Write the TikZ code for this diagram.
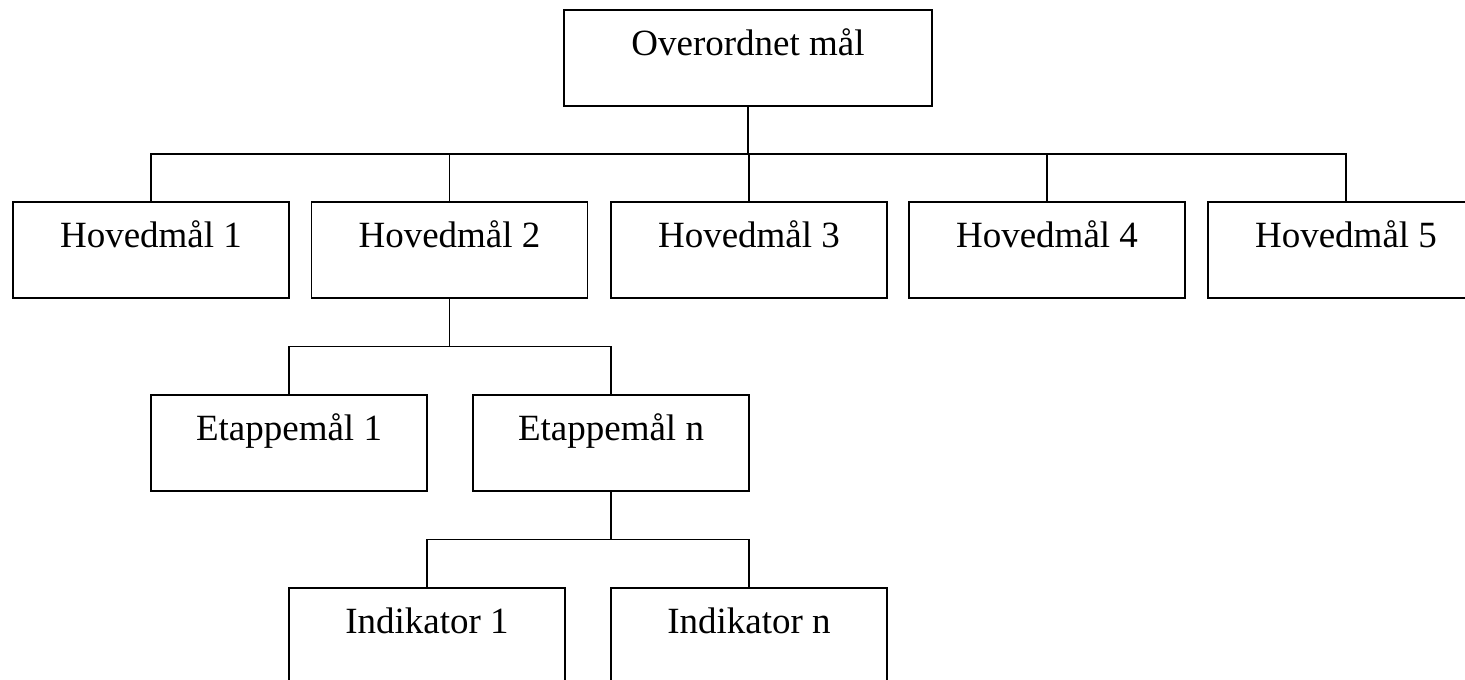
\documentclass[tikz,border=0pt]{standalone}
\usepackage{fontspec}
\setmainfont{Liberation Serif}
\usetikzlibrary{calc}
\begin{document}
\begin{tikzpicture}[x=1pt,y=-1pt,
  box/.style={draw, line width=1.8pt, inner sep=0pt, minimum width=276pt,
    text height=46pt, text depth=50pt, anchor=north,
    font=\fontsize{37}{44}\selectfont},
  link/.style={line width=1.8pt, to path={(\tikztostart) |- ($(\tikztostart)!0.5!(\tikztotarget)$) -| (\tikztotarget)}}]
\useasboundingbox (0,0) rectangle (1465,680);
\node[box, minimum width=368pt] (top) at (748,9) {Overordnet mål};
\node[box] (h1) at (151,201) {Hovedmål 1};
\node[box] (h2) at (449.5,201) {Hovedmål 2};
\node[box] (h3) at (749,201) {Hovedmål 3};
\node[box] (h4) at (1047,201) {Hovedmål 4};
\node[box] (h5) at (1346,201) {Hovedmål 5};
\node[box] (e1) at (289,394) {Etappemål 1};
\node[box] (en) at (611,394) {Etappemål n};
\node[box] (i1) at (427,587) {Indikator 1};
\node[box] (in) at (749,587) {Indikator n};
\foreach \c in {h1,h2,h3,h4,h5} \draw[link] (top.south) to (\c.north);
\foreach \c in {e1,en} \draw[link] (h2.south) to (\c.north);
\foreach \c in {i1,in} \draw[link] (en.south) to (\c.north);
\end{tikzpicture}
\end{document}
